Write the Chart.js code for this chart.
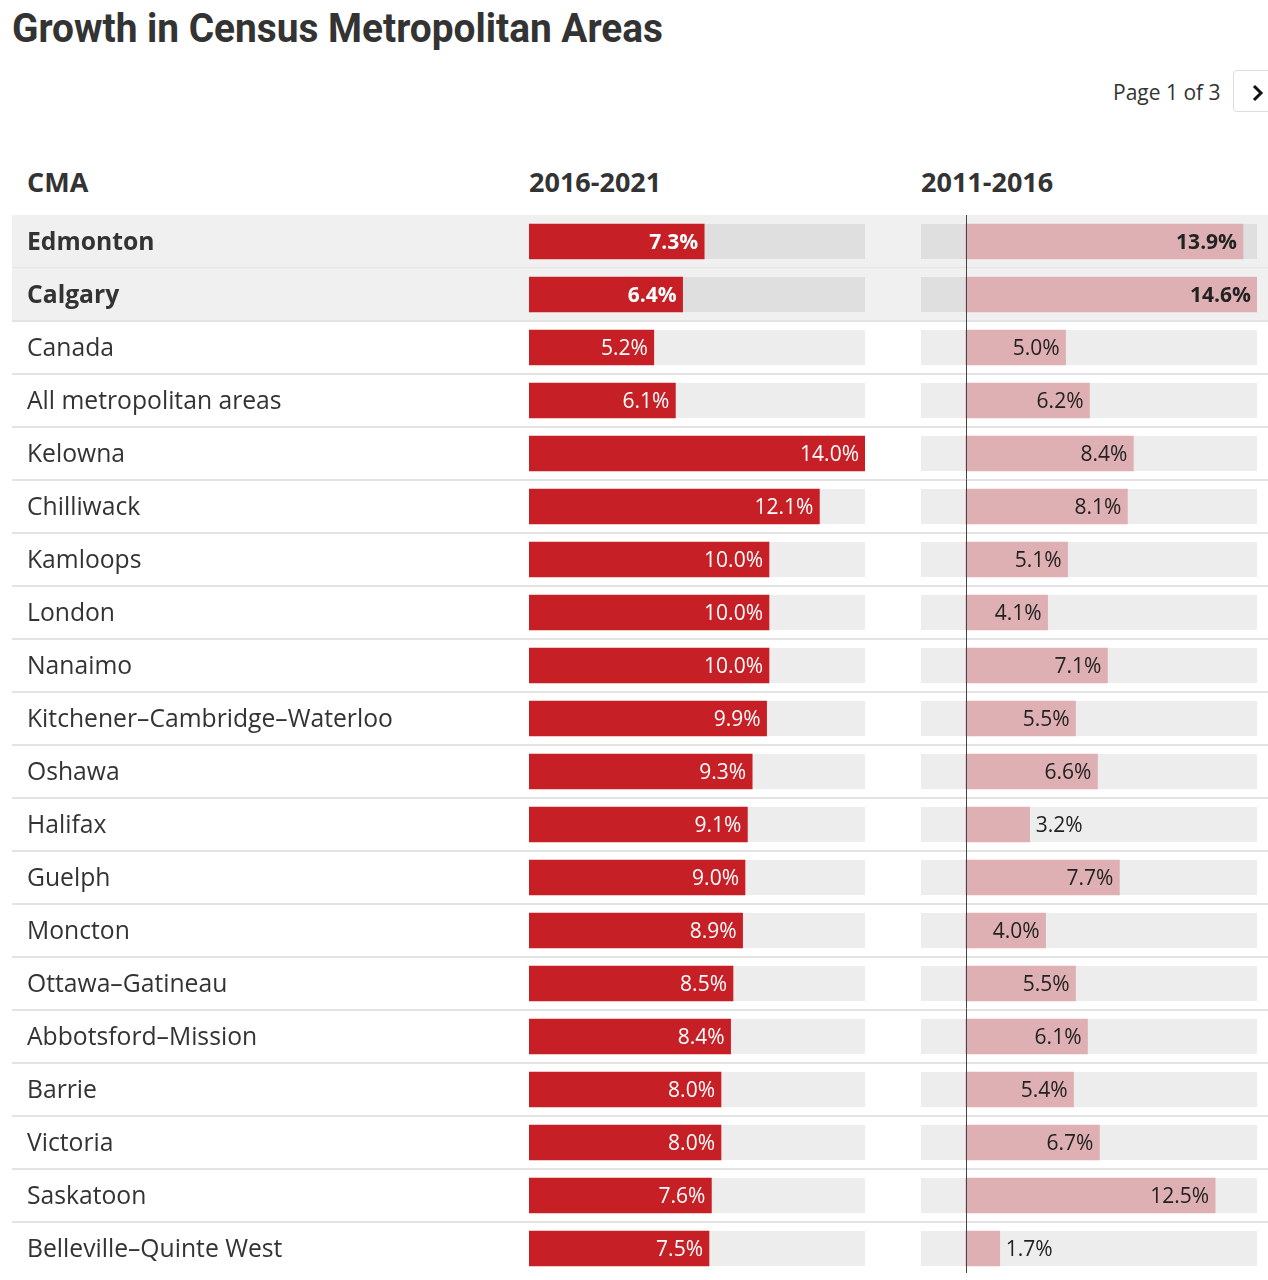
<!DOCTYPE html>
<html>
<head>
<meta charset="utf-8">
<script src="https://cdn.jsdelivr.net/npm/chart.js@4.4.1/dist/chart.umd.min.js"></script>
<style>
  body { margin: 0; background: #fff; font-family: "Open Sans", sans-serif; color: #333; }
  #page { position: relative; width: 1268px; height: 1280px; overflow: hidden; }
  #title { position: absolute; left: 12px; top: 5px; margin: 0; font: 700 40px Roboto, sans-serif; color: #333; white-space: nowrap; transform-origin: 0 0; }
  #pager { position: absolute; left: 1113px; top: 78px; font-size: 21px; color: #333; }
  #nextBtn { position: absolute; left: 1233px; top: 70px; width: 50px; height: 42px; border: 1px solid #ddd; border-radius: 4px; box-sizing: border-box; }
  #nextBtn svg { position: absolute; left: 18px; top: 13px; }
  .head { position: absolute; top: 163px; font-size: 27px; font-weight: 700; color: #333; }
  canvas { position: absolute; }
</style>
</head>
<body>
<div id="page">
  <h1 id="title">Growth in Census Metropolitan Areas</h1>
  <div id="pager">Page 1 of 3</div>
  <div id="nextBtn"><svg width="12" height="18" viewBox="0 0 12 18"><path d="M2 2 L9 9 L2 16" fill="none" stroke="#111" stroke-width="3"/></svg></div>
  <div class="head" style="left:27px">CMA</div>
  <div class="head" style="left:529px">2016-2021</div>
  <div class="head" style="left:921px">2011-2016</div>
  <canvas id="recent" width="1268" height="1060" style="left:0;top:215px"></canvas>
  <canvas id="earlier" width="336" height="1060" style="left:921px;top:215px"></canvas>
</div>
<script>
// Page 1 of the table
const cmaNames = [
  'Edmonton', 'Calgary', 'Canada', 'All metropolitan areas', 'Kelowna',
  'Chilliwack', 'Kamloops', 'London', 'Nanaimo', 'Kitchener–Cambridge–Waterloo',
  'Oshawa', 'Halifax', 'Guelph', 'Moncton', 'Ottawa–Gatineau',
  'Abbotsford–Mission', 'Barrie', 'Victoria', 'Saskatoon', 'Belleville–Quinte West'
];
const growth2016to2021 = [7.3, 6.4, 5.2, 6.1, 14.0, 12.1, 10.0, 10.0, 10.0, 9.9, 9.3, 9.1, 9.0, 8.9, 8.5, 8.4, 8.0, 8.0, 7.6, 7.5];
const growth2011to2016 = [13.9, 14.6, 5.0, 6.2, 8.4, 8.1, 5.1, 4.1, 7.1, 5.5, 6.6, 3.2, 7.7, 4.0, 5.5, 6.1, 5.4, 6.7, 12.5, 1.7];
const highlighted = ['Edmonton', 'Calgary'];
// axis range of the second column (includes the lowest value from the other pages)
const earlierMin = -2.25;

const isHi = i => highlighted.includes(cmaNames[i]);

// fit the title to the width of the original heading
const title = document.getElementById('title');
title.style.transform = 'scaleX(' + (651 / title.getBoundingClientRect().width) + ')';

// row backgrounds, separators and CMA names across the whole table width
const rowsPlugin = {
  id: 'rows',
  beforeDraw(chart) {
    const { ctx, chartArea } = chart;
    const rowH = (chartArea.bottom - chartArea.top) / cmaNames.length;
    ctx.save();
    cmaNames.forEach((name, i) => {
      const y = chartArea.top + i * rowH;
      if (isHi(i)) {
        ctx.fillStyle = '#f0f0f0';
        ctx.fillRect(12, y, chart.width - 12, rowH);
      }
      if (i < cmaNames.length - 1) {
        ctx.fillStyle = '#e4e4e4';
        ctx.fillRect(12, y + rowH - 1, chart.width - 12, 2);
      }
    });
    ctx.restore();
  },
  afterDraw(chart) {
    const { ctx, scales } = chart;
    ctx.save();
    ctx.fillStyle = '#333';
    ctx.textAlign = 'left';
    ctx.textBaseline = 'middle';
    cmaNames.forEach((name, i) => {
      ctx.font = (isHi(i) ? '700 ' : '400 ') + '24.7px "Open Sans"';
      ctx.fillText(name, 27, scales.y.getPixelForValue(i) + 1);
    });
    ctx.restore();
  }
};

// grey track behind each bar
const trackPlugin = {
  id: 'track',
  beforeDatasetsDraw(chart) {
    const { ctx, chartArea } = chart;
    const meta = chart.getDatasetMeta(0);
    ctx.save();
    meta.data.forEach((bar, i) => {
      ctx.fillStyle = isHi(i) ? '#dfdfdf' : '#ededed';
      ctx.fillRect(chartArea.left, bar.y - bar.height / 2, chartArea.right - chartArea.left, bar.height);
    });
    ctx.restore();
  }
};

// value labels at the end of each bar
const labelPlugin = {
  id: 'valueLabels',
  afterDatasetsDraw(chart, args, opts) {
    const { ctx } = chart;
    const meta = chart.getDatasetMeta(0);
    const values = chart.data.datasets[0].data;
    ctx.save();
    ctx.textBaseline = 'middle';
    meta.data.forEach((bar, i) => {
      const text = values[i].toFixed(1) + '%';
      ctx.font = (isHi(i) ? '700 ' : '400 ') + '21px "Open Sans"';
      const tw = ctx.measureText(text).width;
      const barW = bar.x - bar.base;
      if (barW >= tw + 20) {
        ctx.fillStyle = opts.inside;
        ctx.textAlign = 'right';
        ctx.fillText(text, bar.x - 6, bar.y + 1.5);
      } else {
        ctx.fillStyle = opts.outside;
        ctx.textAlign = 'left';
        ctx.fillText(text, bar.x + 6, bar.y + 1.5);
      }
    });
    ctx.restore();
  }
};

// zero line of the second column
const zeroLinePlugin = {
  id: 'zeroLine',
  afterDatasetsDraw(chart) {
    const { ctx, chartArea, scales } = chart;
    const x = Math.round(scales.x.getPixelForValue(0)) + 0.5;
    ctx.save();
    ctx.strokeStyle = '#444';
    ctx.lineWidth = 1;
    ctx.beginPath();
    ctx.moveTo(x, chartArea.top);
    ctx.lineTo(x, chartArea.bottom - 2);
    ctx.stroke();
    ctx.restore();
  }
};

new Chart(document.getElementById('recent'), {
  type: 'bar',
  data: {
    labels: cmaNames,
    datasets: [{
      data: growth2016to2021,
      backgroundColor: '#c61f26',
      barThickness: 35
    }]
  },
  options: {
    indexAxis: 'y',
    responsive: false,
    animation: false,
    layout: { padding: { left: 529, right: 403, top: 0, bottom: 0 } },
    scales: {
      x: { display: false, min: 0, max: Math.max(...growth2016to2021) },
      y: { display: false }
    },
    plugins: {
      legend: { display: false },
      tooltip: { enabled: false },
      valueLabels: { inside: '#fff', outside: '#222' }
    }
  },
  plugins: [rowsPlugin, trackPlugin, labelPlugin]
});

new Chart(document.getElementById('earlier'), {
  type: 'bar',
  data: {
    labels: cmaNames,
    datasets: [{
      data: growth2011to2016,
      backgroundColor: '#dfb0b3',
      barThickness: 35
    }]
  },
  options: {
    indexAxis: 'y',
    responsive: false,
    animation: false,
    layout: { padding: 0 },
    scales: {
      x: { display: false, min: earlierMin, max: Math.max(...growth2011to2016) },
      y: { display: false }
    },
    plugins: {
      legend: { display: false },
      tooltip: { enabled: false },
      valueLabels: { inside: '#222', outside: '#222' }
    }
  },
  plugins: [trackPlugin, labelPlugin, zeroLinePlugin]
});
</script>
</body>
</html>
